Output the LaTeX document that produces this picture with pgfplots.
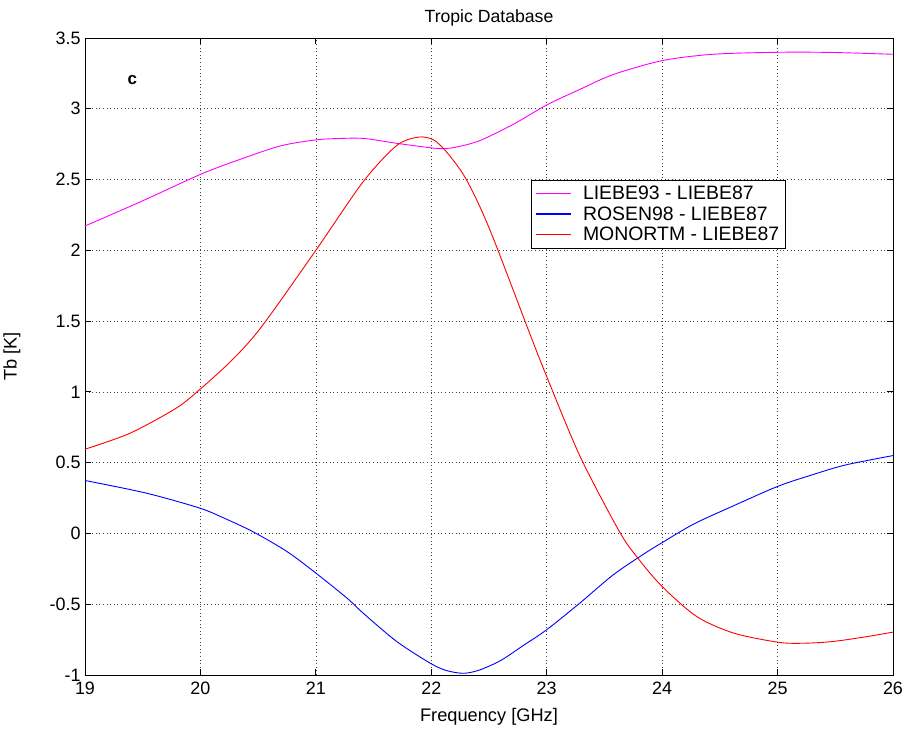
\documentclass[border=0pt]{standalone}
\usepackage{fontspec}
\setmainfont{Liberation Sans}
\usepackage{pgfplots}
\pgfplotsset{compat=1.18}
\definecolor{mmag}{rgb}{1,0,1}
\definecolor{mblue}{rgb}{0,0,1}
\definecolor{mred}{rgb}{1,0,0}
\begin{document}
\begin{tikzpicture}[x=1bp,y=1bp]
\useasboundingbox (-85bp,-61bp) rectangle (822bp,675bp);
\begin{axis}[
  at={(0,0)}, anchor=south west,
  scale only axis, width=808bp, height=637bp,
  xmin=19, xmax=26, ymin=-1, ymax=3.5,
  xtick={19,...,26},
  ytick={-1,-0.5,0,0.5,1,1.5,2,2.5,3,3.5},
  yticklabels={-1,-0.5,0,0.5,1,1.5,2,2.5,3,3.5},
  xticklabels={19,20,21,22,23,24,25,26},
  tick align=inside, tick pos=both,
  major tick length=6bp,
  grid=major,
  major grid style={black!75, dash pattern=on 1bp off 2.6bp, line width=0.7bp},
  axis line style={black, line width=0.8bp},
  tick style={black, line width=0.8bp},
  ticklabel style={font=\fontsize{18}{21}\selectfont},
  xticklabel style={yshift=-3bp},
  yticklabel style={xshift=-1bp},
  /pgf/number format/assume math mode=true,
  xlabel={Frequency [GHz]},
  ylabel={Tb [K]},
  every axis x label/.style={at={([yshift=-42bp]axis description cs:0.5,0)}, anchor=center, font=\fontsize{18.3}{21}\selectfont},
  every axis y label/.style={at={([xshift=-73bp]axis description cs:0,0.5)}, anchor=center, rotate=90, font=\fontsize{18.3}{21}\selectfont},
  title={Tropic Database},
  every axis title/.style={at={([yshift=20bp]axis description cs:0.5,1)}, anchor=center, font=\fontsize{17.7}{21}\selectfont},
  legend style={at={(axis cs:22.86,2.5)}, anchor=north west,
    font=\fontsize{19.5}{22}\selectfont, line width=0.8bp,
    inner xsep=4bp, inner ysep=4bp, row sep=1.5bp, column sep=10bp},
  legend cell align=left,
  legend image code/.code={\draw[#1] (0bp,0bp) -- (35bp,0bp);},
]
\addlegendimage{draw=mmag, color=mmag, line width=1.1bp}
\addlegendentry{LIEBE93 - LIEBE87}
\addlegendimage{draw=mblue, color=mblue, line width=1.1bp}
\addlegendentry{ROSEN98 - LIEBE87}
\addlegendimage{draw=mred, color=mred, line width=1.1bp}
\addlegendentry{MONORTM - LIEBE87\hspace{6bp}}
\addplot[color=mmag, draw=mmag, line width=0.9bp, smooth, forget plot] coordinates {
(19.0,2.172) (19.5,2.35) (19.99,2.533) (20.3,2.63) (20.69,2.737) (21.0,2.78) (21.2,2.79) (21.42,2.79)
(21.70,2.756) (21.99,2.725) (22.1,2.718) (22.22,2.73) (22.42,2.775) (22.71,2.89) (23.0,3.027)
(23.29,3.138) (23.58,3.243) (24.0,3.34) (24.44,3.385) (25.0,3.399) (25.46,3.398) (26.0,3.385)
};
\addplot[color=mblue, draw=mblue, line width=0.9bp, smooth, forget plot] coordinates {
(19.0,0.374) (19.53,0.285) (19.99,0.18) (20.2,0.11) (20.46,0.01) (20.75,-0.128) (21.0,-0.28)
(21.27,-0.457) (21.41,-0.563) (21.70,-0.763) (21.99,-0.916) (22.13,-0.968) (22.28,-0.988)
(22.42,-0.964) (22.60,-0.898) (22.8,-0.79) (23.0,-0.68) (23.29,-0.49) (23.58,-0.29)
(23.87,-0.13) (24.0,-0.065) (24.27,0.065) (24.59,0.185) (25.0,0.332) (25.30,0.414) (25.59,0.484) (26.0,0.55)
};
\addplot[color=mred, draw=mred, line width=0.9bp, smooth, forget plot] coordinates {
(19.0,0.595) (19.39,0.708) (19.79,0.885) (19.99,1.014) (20.26,1.214) (20.52,1.45) (21.0,2.0)
(21.41,2.485) (21.70,2.74) (21.89,2.80) (22.02,2.78) (22.13,2.697) (22.28,2.533) (22.42,2.31)
(22.56,2.038) (22.84,1.44) (23.0,1.108) (23.29,0.543) (23.63,0.013) (23.79,-0.175) (24.0,-0.375)
(24.30,-0.587) (24.62,-0.704) (25.0,-0.768) (25.2,-0.776) (25.46,-0.765) (25.75,-0.732) (26.0,-0.697)
};
\node[font=\fontsize{17}{20}\selectfont\bfseries] at (axis cs:19.41,3.2) {c};
\end{axis}
\end{tikzpicture}
\end{document}
